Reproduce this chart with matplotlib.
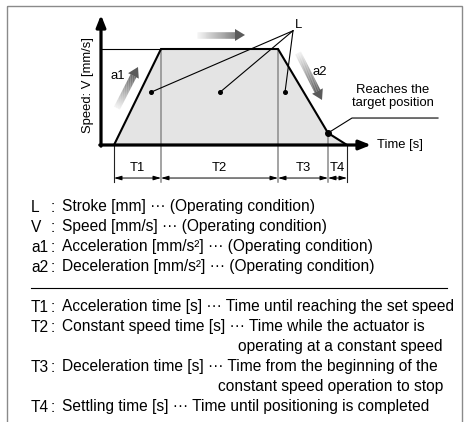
import numpy as np
import matplotlib.pyplot as plt
from matplotlib.collections import LineCollection
from matplotlib.patches import Polygon, Rectangle

plt.rcParams['font.family'] = ['Liberation Sans', 'DejaVu Sans']

W, H = 468, 422
FS = 9.4          # diagram labels
FS_BODY = 11.2    # definitions block

# trapezoidal motion profile (time in s, speed normalised to the set speed)
t_start = 0.13
durations = [0.47, 1.17, 0.50, 0.19]       # T1..T4
phase_names = ["T1", "T2", "T3", "T4"]
v_set = 1.0
v_target = 0.125                           # speed when the target position is reached

# points inside the stroke area that the "L" leaders point to
stroke_pts_t = [0.50, 1.19, 1.84]
stroke_pts_v = [0.55, 0.55, 0.55]

# legend / definitions block
symbols = ["L", "V", "a1", "a2"]
symbol_text = [
    "Stroke [mm] \u00b7\u00b7\u00b7 (Operating condition)",
    "Speed [mm/s] \u00b7\u00b7\u00b7 (Operating condition)",
    "Acceleration [mm/s\u00b2] \u00b7\u00b7\u00b7 (Operating condition)",
    "Deceleration [mm/s\u00b2] \u00b7\u00b7\u00b7 (Operating condition)",
]
time_text = [
    ("Acceleration time [s] \u00b7\u00b7\u00b7 Time until reaching the set speed", None),
    ("Constant speed time [s] \u00b7\u00b7\u00b7 Time while the actuator is",
     "operating at a constant speed"),
    ("Deceleration time [s] \u00b7\u00b7\u00b7 Time from the beginning of the",
     "constant speed operation to stop"),
    ("Settling time [s] \u00b7\u00b7\u00b7 Time until positioning is completed", None),
]

fig = plt.figure(figsize=(W / 100, H / 100), dpi=100)

# full-figure layer for the frame and the text block (pixel coordinates)
bg = fig.add_axes([0, 0, 1, 1])
bg.set_xlim(0, W)
bg.set_ylim(H, 0)
bg.axis("off")
bg.add_patch(Rectangle((7, 6), 455, 430, fill=False, ec="#8a8a8a", lw=1.0, clip_on=False))

# diagram axes: origin at the corner of the speed/time axes
ax = fig.add_axes([101 / W, (H - 145) / H, 270 / W, 130 / H])
ax.set_xlim(0, 2.70)
ax.set_ylim(0, 130 / 96)
ax.axis("off")

edges = t_start + np.concatenate([[0], np.cumsum(durations)])
prof_t = [edges[0], edges[1], edges[2], edges[3], edges[4]]
prof_v = [0, v_set, v_set, v_target, 0]

ax.fill(prof_t, prof_v, color="#e4e4e4", lw=0, zorder=1)

# phase boundaries
y_ext = -0.385
ax.plot([edges[0], edges[0]], [0, y_ext], color="#222222", lw=0.8, clip_on=False, zorder=2)
ax.plot([edges[4], edges[4]], [0, y_ext], color="#222222", lw=0.8, clip_on=False, zorder=2)
for x, top in [(edges[1], v_set), (edges[2], v_set), (edges[3], v_target)]:
    ax.plot([x, x], [top, y_ext], color="#8a8a8a", lw=1.1, clip_on=False, zorder=2)

ax.plot([0, edges[1]], [v_set, v_set], color="black", lw=0.8, zorder=2)
ax.plot(prof_t, prof_v, color="black", lw=1.5, zorder=3, solid_joinstyle="miter")

# speed / time axes
arrow_kw = dict(arrowstyle="-|>,head_length=0.7,head_width=0.28", color="black",
                lw=2.3, shrinkA=0, shrinkB=0)
ax.annotate("", xy=(2.70, 0), xytext=(-0.012, 0), arrowprops=arrow_kw, annotation_clip=False, zorder=4)
ax.annotate("", xy=(0, 130 / 96), xytext=(0, -0.012), arrowprops=arrow_kw, annotation_clip=False, zorder=4)

# dimension lines T1..T4
y_dim = -0.344
dim_kw = dict(arrowstyle="<|-|>,head_length=0.45,head_width=0.13", color="black",
              lw=0.7, shrinkA=0, shrinkB=0)
for a, b, name in zip(edges[:-1], edges[1:], phase_names):
    ax.annotate("", xy=(b, y_dim), xytext=(a, y_dim), arrowprops=dim_kw, annotation_clip=False)
    ax.text((a + b) / 2, -0.24, name, ha="center", va="center", fontsize=FS)

# stroke leaders
L_t, L_v = 1.92, 1.19
for t, v in zip(stroke_pts_t, stroke_pts_v):
    ax.plot([t, L_t], [v, L_v], color="black", lw=0.8, zorder=4)
ax.plot(stroke_pts_t, stroke_pts_v, "o", color="black", ms=2.6, zorder=5)
ax.text(L_t + 0.015, 1.245, "L", ha="left", va="center", fontsize=FS)

# target position marker and leader
ax.plot(edges[3], v_target, "o", color="black", ms=4, zorder=5)
ax.plot([edges[3], 2.51, 3.37], [v_target, 0.281, 0.281], color="black", lw=0.8,
        clip_on=False, zorder=4)
ax.text(2.92, 0.505, "Reaches the\ntarget position", ha="center", va="center",
        fontsize=FS, linespacing=1.15, multialignment="center")

ax.text(0.17, 0.72, "a1", ha="center", va="center", fontsize=FS)
ax.text(2.19, 0.76, "a2", ha="center", va="center", fontsize=FS)
ax.text(2.76, -0.005, "Time [s]", ha="left", va="center", fontsize=FS, clip_on=False)
ax.text(-0.13, 0.625, "Speed: V [mm/s]", ha="center", va="center", rotation=90, fontsize=FS)


def gradient_arrow(tail, tip, shaft_px=6.5, head_len_px=10, head_w_px=12, n=40):
    """Shaded direction arrow: light tail fading into a dark head."""
    p0 = ax.transData.transform(tail)
    p1 = ax.transData.transform(tip)
    d = (p1 - p0) / np.hypot(*(p1 - p0))
    nrm = np.array([-d[1], d[0]])
    base = p1 - d * head_len_px
    pts = np.linspace(p0, base, n + 1)
    segs = np.stack([pts[:-1], pts[1:]], axis=1)
    inv = ax.transData.inverted()
    segs_d = np.array([inv.transform(s) for s in segs])
    shades = np.linspace(0.95, 0.36, n)
    lc = LineCollection(segs_d, colors=[(s, s, s) for s in shades],
                        linewidths=shaft_px * 0.72, capstyle="butt", zorder=4)
    ax.add_collection(lc)
    head = np.array([p1, base + nrm * head_w_px / 2, base - nrm * head_w_px / 2])
    ax.add_patch(Polygon(inv.transform(head), closed=True, fc="#5a5a5a", ec="none",
                         zorder=4, clip_on=False))


gradient_arrow((0.96, 1.146), (1.44, 1.146))
gradient_arrow((0.16, 0.385), (0.37, 0.8125))
gradient_arrow((1.97, 0.958), (2.21, 0.469))

# definitions block
x_key, x_colon, x_desc = 31, 50.5, 62
row_y = 207
for sym, txt in zip(symbols, symbol_text):
    bg.text(x_key, row_y, sym, ha="left", va="center", fontsize=FS_BODY)
    bg.text(x_colon, row_y, ":", ha="left", va="center", fontsize=FS_BODY)
    bg.text(x_desc, row_y, txt, ha="left", va="center", fontsize=FS_BODY)
    row_y += 20

bg.plot([31, 447], [row_y + 1, row_y + 1], color="black", lw=0.8)
row_y += 20

for name, (line1, line2) in zip(phase_names, time_text):
    bg.text(x_key, row_y, name, ha="left", va="center", fontsize=FS_BODY)
    bg.text(x_colon, row_y, ":", ha="left", va="center", fontsize=FS_BODY)
    bg.text(x_desc, row_y, line1, ha="left", va="center", fontsize=FS_BODY)
    row_y += 20
    if line2:
        bg.text(443, row_y, line2, ha="right", va="center", fontsize=FS_BODY)
        row_y += 20

fig.savefig("out.png", dpi=100)
